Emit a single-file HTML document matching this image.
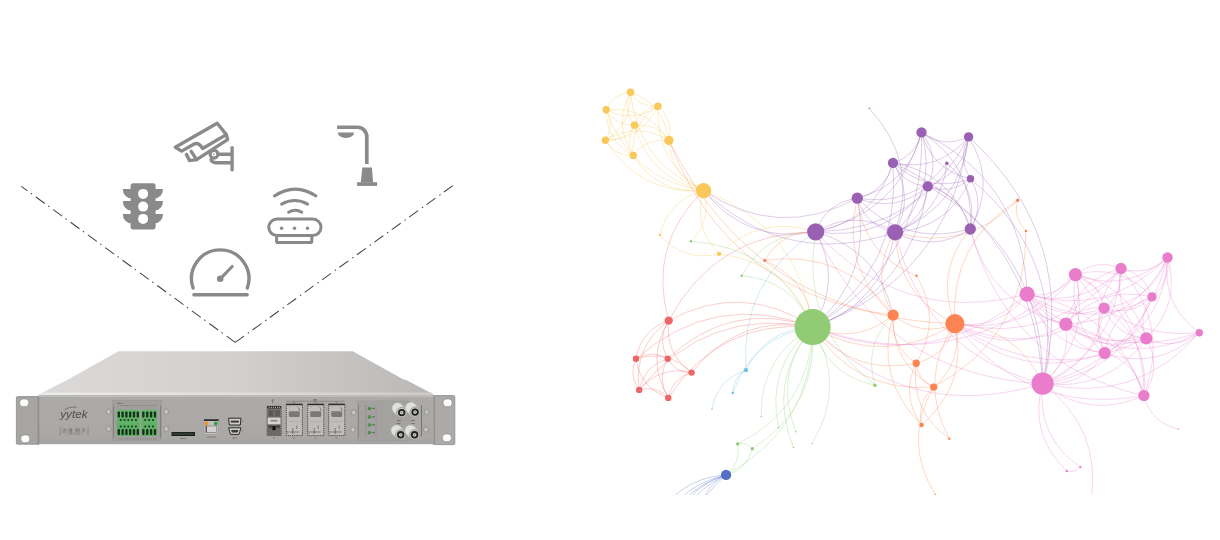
<!DOCTYPE html>
<html><head><meta charset="utf-8"><style>
html,body{margin:0;padding:0;background:#fff;}
body{width:1220px;height:540px;overflow:hidden;position:relative;font-family:"Liberation Sans",sans-serif;}
svg{position:absolute;left:0;top:0;}
svg{will-change:transform;}
</style></head><body>
<svg width="1220" height="540" viewBox="0 0 1220 540">
<g stroke="#444" stroke-width="1.05" fill="none" stroke-dasharray="11 4.2 1.5 4.76">
<path d="M21.4 186.4L235.2 342.4" stroke-dashoffset="3.5"/><path d="M452.9 185.6L235.2 342.4"/></g>
<g fill="#8a8a8a">
<rect x="130.6" y="183.3" width="25" height="46.1" rx="2.6"/>
<path d="M122.8 188.9H131V198.3A8.2 9.4 0 0 1 122.8 188.9Z"/><path d="M163 188.9H155V198.3A8 9.4 0 0 0 163 188.9Z"/><path d="M122.8 201.1H131V210.5A8.2 9.4 0 0 1 122.8 201.1Z"/><path d="M163 201.1H155V210.5A8 9.4 0 0 0 163 201.1Z"/><path d="M122.8 213.9H131V223.3A8.2 9.4 0 0 1 122.8 213.9Z"/><path d="M163 213.9H155V223.3A8 9.4 0 0 0 163 213.9Z"/>
</g>
<g fill="#fff"><circle cx="143.1" cy="193.9" r="5"/><circle cx="143.1" cy="206.6" r="5"/><circle cx="143.1" cy="218.9" r="5"/></g>
<g fill="none" stroke="#8a8a8a" stroke-width="3.4" stroke-linejoin="round" stroke-linecap="round">
<path d="M175.3 147.2L217.2 123.3L226.3 134.6L202.6 148.5Q198.5 141.5 193.7 144.2L181.7 151.1Z"/>
<path d="M226.3 134.6L227.6 139.6L196.6 159.6L191.2 151.4"/>
<path d="M186.4 154.4L189.6 160.6L196.6 159.6"/>
<path d="M218.9 154.2H232.1M232.1 147.7V169.9M211 159.5Q212 162.7 216 162.7H232.1"/>
</g>
<circle cx="214" cy="154.2" r="3.9" fill="#fff" stroke="#8a8a8a" stroke-width="3.2"/>
<circle cx="213.9" cy="154.2" r="0.8" fill="#8a8a8a"/>
<g fill="#8a8a8a">
<path d="M337.1 127.25H357.3A9.5 9.5 0 0 1 366.8 136.75V163.9" fill="none" stroke="#8a8a8a" stroke-width="3.7"/>
<path d="M337.8 132.4H354.1A8.15 5.6 0 0 1 337.8 132.4Z"/>
<path d="M362.3 167.6H371.9L373.1 182.5H360.8Z"/>
<rect x="357.1" y="182.2" width="20" height="3.7"/>
</g>
<g fill="none" stroke="#8a8a8a" stroke-width="3" stroke-linecap="round">
<path d="M274.4 196Q295.2 182.2 316 196"/>
<path d="M281.6 204.1Q294.6 197 307.6 204.1"/>
<path d="M288.6 212.2Q295.2 208.4 301.8 212.2"/>
<rect x="268.8" y="219.1" width="52.2" height="16.4" rx="8.2"/>
<path d="M276.6 237V241.2Q276.6 242.6 278 242.6H310.4Q311.8 242.6 311.8 241.2V237"/>
</g>
<g fill="#8a8a8a"><circle cx="281.6" cy="228.2" r="1.7"/><circle cx="294.5" cy="228.2" r="1.7"/><circle cx="307.5" cy="228.2" r="1.7"/></g>
<g fill="none" stroke="#8a8a8a" stroke-width="3.4" stroke-linecap="round">
<path d="M193.1 288A28.7 28.7 0 1 1 247.3 288"/>
<path d="M193.9 294.7H247.1"/>
<path d="M220.2 278.8L232.2 266.5" stroke-width="3.1"/>
</g><circle cx="220.2" cy="278.8" r="3.3" fill="#8a8a8a"/>
<defs>
<linearGradient id="topg" gradientUnits="userSpaceOnUse" x1="40" y1="0" x2="433" y2="0">
<stop offset="0" stop-color="#dcdad9"/><stop offset="0.5" stop-color="#d2d0cf"/><stop offset="1" stop-color="#bab8b6"/></linearGradient>
<linearGradient id="rimg" gradientUnits="userSpaceOnUse" x1="40" y1="0" x2="433" y2="0">
<stop offset="0" stop-color="#ebebea"/><stop offset="0.5" stop-color="#e0dfde"/><stop offset="1" stop-color="#cdcbc9"/></linearGradient>
<linearGradient id="faceg" x1="0" y1="0" x2="0" y2="1">
<stop offset="0" stop-color="#adaba9"/><stop offset="0.85" stop-color="#aaa8a6"/><stop offset="1" stop-color="#a5a3a1"/></linearGradient>
<linearGradient id="earg" x1="0" y1="0" x2="1" y2="0">
<stop offset="0" stop-color="#a6a4a2"/><stop offset="1" stop-color="#b2b0ae"/></linearGradient>
<linearGradient id="greeng" x1="0" y1="0" x2="0" y2="1">
<stop offset="0" stop-color="#62b86a"/><stop offset="1" stop-color="#5aae62"/></linearGradient>
</defs>
<path d="M118.5 351.3H352.7L403.6 379.6L406.2 380.1L433.7 394.5H38.9L67.6 379.8Z" fill="url(#topg)"/>
<path d="M43.5 392.4H431L433.7 395H38.9Z" fill="url(#rimg)"/>
<rect x="38.4" y="395" width="395.3" height="1.8" fill="#bcbab8"/>
<rect x="38.4" y="396.6" width="395.3" height="47.6" fill="url(#faceg)"/>
<rect x="16.4" y="396.6" width="22.4" height="47.6" rx="1.2" fill="#a7a5a3" stroke="#8b8987" stroke-width="0.8"/>
<rect x="37.6" y="396" width="1.2" height="49" fill="#8e8c8a"/>
<rect x="434.4" y="395.6" width="20.4" height="49" rx="1.2" fill="#acaaa8" stroke="#8b8987" stroke-width="0.8"/>
<rect x="433.4" y="395" width="1.3" height="50" fill="#8e8c8a"/>
<rect x="19.7" y="398.9" width="9" height="7.8" rx="3.4" fill="#fdfdfd" stroke="#7f7d7b" stroke-width="0.6"/>
<rect x="20.8" y="434.9" width="9" height="7.8" rx="3.4" fill="#fdfdfd" stroke="#7f7d7b" stroke-width="0.6"/>
<rect x="443.1" y="398.9" width="9" height="7.8" rx="3.4" fill="#fdfdfd" stroke="#7f7d7b" stroke-width="0.6"/>
<rect x="442.4" y="433.9" width="9" height="7.8" rx="3.4" fill="#fdfdfd" stroke="#7f7d7b" stroke-width="0.6"/>
<text x="60.2" y="417.6" font-family="Liberation Sans" font-style="italic" font-size="11" fill="#504e4c" textLength="27.3" lengthAdjust="spacingAndGlyphs">yytek</text>
<path d="M64.5 410Q69 406.5 76.5 407.2" stroke="#5e5c5a" stroke-width="0.7" fill="none"/>
<path d="M60.3 426.7V435.6M88 426.7V435.6" stroke="#6e6c6a" stroke-width="0.5"/>
<text x="74" y="431.5" text-anchor="middle" font-family="Liberation Sans" font-size="4.5" fill="#6a6866">&#36793; &#32536; &#32593; &#20851;</text>
<text x="74" y="435.3" text-anchor="middle" font-family="Liberation Sans" font-size="2.6" fill="#7a7876">-- SWC0000 --</text>
<ellipse cx="108.5" cy="411.6" rx="2.5" ry="2.9" fill="#b9b7b5" stroke="#8a8886" stroke-width="0.6"/>
<circle cx="108.7" cy="412.20000000000005" r="0.9" fill="#d8d6d4"/>
<ellipse cx="108.5" cy="428.7" rx="2.5" ry="2.9" fill="#b9b7b5" stroke="#8a8886" stroke-width="0.6"/>
<circle cx="108.7" cy="429.3" r="0.9" fill="#d8d6d4"/>
<ellipse cx="166.2" cy="411.6" rx="2.5" ry="2.9" fill="#b9b7b5" stroke="#8a8886" stroke-width="0.6"/>
<circle cx="166.39999999999998" cy="412.20000000000005" r="0.9" fill="#d8d6d4"/>
<ellipse cx="166.2" cy="428.7" rx="2.5" ry="2.9" fill="#b9b7b5" stroke="#8a8886" stroke-width="0.6"/>
<circle cx="166.39999999999998" cy="429.3" r="0.9" fill="#d8d6d4"/>
<ellipse cx="353.6" cy="412.3" rx="2.5" ry="2.9" fill="#b9b7b5" stroke="#8a8886" stroke-width="0.6"/>
<circle cx="353.8" cy="412.90000000000003" r="0.9" fill="#d8d6d4"/>
<ellipse cx="353" cy="429.3" rx="2.5" ry="2.9" fill="#b9b7b5" stroke="#8a8886" stroke-width="0.6"/>
<circle cx="353.2" cy="429.90000000000003" r="0.9" fill="#d8d6d4"/>
<ellipse cx="426.7" cy="411.7" rx="2.5" ry="2.9" fill="#b9b7b5" stroke="#8a8886" stroke-width="0.6"/>
<circle cx="426.9" cy="412.3" r="0.9" fill="#d8d6d4"/>
<ellipse cx="425.9" cy="429.3" rx="2.5" ry="2.9" fill="#b9b7b5" stroke="#8a8886" stroke-width="0.6"/>
<circle cx="426.09999999999997" cy="429.90000000000003" r="0.9" fill="#d8d6d4"/>
<rect x="112.5" y="400.5" width="49" height="40" fill="#a19f9d" stroke="#95938f" stroke-width="0.5"/>
<path d="M113.5 406V438M160.5 406V438" stroke="#6f6d6b" stroke-width="0.6"/>
<g fill="#6a6866" font-family="Liberation Sans" font-size="2.4">
<text x="117" y="404">&#9632;   &#9632;   &#9632;</text></g>
<path d="M118 405.5H157M118 439H157" stroke="#777573" stroke-width="0.7" stroke-dasharray="1.2 1"/>
<rect x="116.9" y="409.8" width="22.8" height="26.1" fill="url(#greeng)"/>
<rect x="117.65" y="411.4" width="2.3" height="6.2" rx="0.9" fill="#17301a"/>
<rect x="117.65" y="429" width="2.3" height="5.9" rx="0.9" fill="#17301a"/>
<rect x="121.45" y="411.4" width="2.3" height="6.2" rx="0.9" fill="#17301a"/>
<rect x="121.45" y="429" width="2.3" height="5.9" rx="0.9" fill="#17301a"/>
<rect x="125.25" y="411.4" width="2.3" height="6.2" rx="0.9" fill="#17301a"/>
<rect x="125.25" y="429" width="2.3" height="5.9" rx="0.9" fill="#17301a"/>
<rect x="129.05" y="411.4" width="2.3" height="6.2" rx="0.9" fill="#17301a"/>
<rect x="129.05" y="429" width="2.3" height="5.9" rx="0.9" fill="#17301a"/>
<rect x="132.85" y="411.4" width="2.3" height="6.2" rx="0.9" fill="#17301a"/>
<rect x="132.85" y="429" width="2.3" height="5.9" rx="0.9" fill="#17301a"/>
<rect x="136.65" y="411.4" width="2.3" height="6.2" rx="0.9" fill="#17301a"/>
<rect x="136.65" y="429" width="2.3" height="5.9" rx="0.9" fill="#17301a"/>
<rect x="119.80" y="419.1" width="1.8" height="1.8" fill="#1d3620"/>
<rect x="119.80" y="425.6" width="1.8" height="1.8" fill="#1d3620"/>
<rect x="123.60" y="419.1" width="1.8" height="1.8" fill="#1d3620"/>
<rect x="123.60" y="425.6" width="1.8" height="1.8" fill="#1d3620"/>
<rect x="127.40" y="419.1" width="1.8" height="1.8" fill="#1d3620"/>
<rect x="127.40" y="425.6" width="1.8" height="1.8" fill="#1d3620"/>
<rect x="131.20" y="419.1" width="1.8" height="1.8" fill="#1d3620"/>
<rect x="131.20" y="425.6" width="1.8" height="1.8" fill="#1d3620"/>
<rect x="135.00" y="419.1" width="1.8" height="1.8" fill="#1d3620"/>
<rect x="135.00" y="425.6" width="1.8" height="1.8" fill="#1d3620"/>
<rect x="141.4" y="409.8" width="15.5" height="26.1" fill="url(#greeng)"/>
<rect x="142.19" y="411.4" width="2.3" height="6.2" rx="0.9" fill="#17301a"/>
<rect x="142.19" y="429" width="2.3" height="5.9" rx="0.9" fill="#17301a"/>
<rect x="146.06" y="411.4" width="2.3" height="6.2" rx="0.9" fill="#17301a"/>
<rect x="146.06" y="429" width="2.3" height="5.9" rx="0.9" fill="#17301a"/>
<rect x="149.94" y="411.4" width="2.3" height="6.2" rx="0.9" fill="#17301a"/>
<rect x="149.94" y="429" width="2.3" height="5.9" rx="0.9" fill="#17301a"/>
<rect x="153.81" y="411.4" width="2.3" height="6.2" rx="0.9" fill="#17301a"/>
<rect x="153.81" y="429" width="2.3" height="5.9" rx="0.9" fill="#17301a"/>
<rect x="144.38" y="419.1" width="1.8" height="1.8" fill="#1d3620"/>
<rect x="144.38" y="425.6" width="1.8" height="1.8" fill="#1d3620"/>
<rect x="148.25" y="419.1" width="1.8" height="1.8" fill="#1d3620"/>
<rect x="148.25" y="425.6" width="1.8" height="1.8" fill="#1d3620"/>
<rect x="152.12" y="419.1" width="1.8" height="1.8" fill="#1d3620"/>
<rect x="152.12" y="425.6" width="1.8" height="1.8" fill="#1d3620"/>
<rect x="171.5" y="432" width="23.5" height="4" fill="#1c1c1c"/>
<rect x="172.3" y="432.8" width="21.9" height="2.2" fill="#2f3a30"/>
<rect x="180" y="438" width="6" height="1" fill="#7d7b79"/>
<rect x="204" y="420.5" width="14.6" height="14.2" fill="#c4c2c0" stroke="#8f8d8b" stroke-width="0.5"/>
<rect x="204" y="419.3" width="14.6" height="1.6" fill="#1e1e1e"/>
<circle cx="206.6" cy="423.5" r="1.9" fill="#f39221"/><circle cx="215.8" cy="423.5" r="1.9" fill="#3a9a44"/>
<rect x="206" y="426" width="10.8" height="6.5" fill="#d3d1cf" stroke="#6f6d6b" stroke-width="0.6"/>
<rect x="205.8" y="425.8" width="1" height="6.6" fill="#444"/>
<rect x="207" y="436.5" width="9" height="1" fill="#7d7b79"/>
<path d="M228.6 418.2H241L240.3 425H229.3Z" fill="#d0cecc" stroke="#2b2b2b" stroke-width="1"/>
<rect x="230.8" y="420.6" width="8" height="2" fill="#3a3a3a"/>
<path d="M228.6 427.8H241L239 434.4H230.6Z" fill="#d0cecc" stroke="#2b2b2b" stroke-width="1"/>
<path d="M231 430H238.6L237.5 432.5H232Z" fill="#3a3a3a"/>
<rect x="242.5" y="420.5" width="0.6" height="1.5" fill="#6d6b69"/><rect x="242.5" y="430" width="0.6" height="1.5" fill="#6d6b69"/>
<rect x="232.5" y="437.5" width="4.5" height="1" fill="#7d7b79"/>
<rect x="267.1" y="406.2" width="14.1" height="29.4" fill="#858381" stroke="#3f3d3b" stroke-width="0.7" stroke-dasharray="1.1 0.6"/>
<rect x="267.1" y="406.2" width="14.1" height="2.3" rx="1" fill="#1f1f1f"/>
<rect x="268.6" y="406.8" width="1.1" height="1" fill="#d8d8d8"/>
<rect x="270.7" y="406.8" width="1.1" height="1" fill="#d8d8d8"/>
<rect x="272.8" y="406.8" width="1.1" height="1" fill="#d8d8d8"/>
<rect x="274.9" y="406.8" width="1.1" height="1" fill="#d8d8d8"/>
<rect x="277.0" y="406.8" width="1.1" height="1" fill="#d8d8d8"/>
<rect x="279.1" y="406.8" width="1.1" height="1" fill="#d8d8d8"/>
<rect x="267.8" y="409.2" width="12.7" height="8.2" fill="#747270"/>
<rect x="268.5" y="410" width="5" height="6.5" fill="#5a5856"/><rect x="275" y="410" width="5" height="6.5" fill="#5e5c5a"/>
<rect x="267.8" y="417.7" width="12.7" height="6.8" fill="#d6d4d2"/>
<rect x="270.5" y="419.8" width="7" height="1.8" fill="#8a8886"/>
<rect x="267.8" y="424.5" width="12.7" height="10.8" fill="#6c6a68"/>
<rect x="268.5" y="425.2" width="4" height="3" fill="#4a4846"/><rect x="276" y="425.2" width="4" height="3" fill="#4a4846"/>
<rect x="272.4" y="426" width="3.2" height="4.2" fill="#0f0f0f"/>
<rect x="271.5" y="399.5" width="2.2" height="1.2" fill="#6d6b69"/><rect x="272" y="401.5" width="1.2" height="1.5" fill="#6d6b69"/><rect x="273" y="437.5" width="1.5" height="1" fill="#6d6b69"/>
<path d="M286 401.3H344.4" stroke="#6d6b69" stroke-width="0.5"/>
<rect x="313" y="399.3" width="4" height="1.2" fill="#6d6b69"/>
<rect x="286.3" y="404.1" width="16.1" height="31.5" fill="#c0bebc" stroke="#3a3836" stroke-width="0.8" stroke-dasharray="1.3 0.8"/>
<rect x="286.3" y="403.8" width="16.1" height="1.4" fill="#2f2d2b"/>
<rect x="288.8" y="411.3" width="11" height="5.6" rx="1.2" fill="#7b7977"/>
<path d="M298.5 407.5L299.8 411" stroke="#6a6866" stroke-width="0.8"/>
<path d="M288.3 405.5L290.3 407.5M296.3 405.8L298.3 407.5" stroke="#9a9896" stroke-width="0.6"/>
<rect x="288.3" y="421" width="12.100000000000001" height="0.5" fill="#a4a2a0"/>
<path d="M292.8 434V428M296.8 429V425.5M289.3 432H299.3M287.8 433.5V431" stroke="#5a5856" stroke-width="0.7" fill="none"/>
<rect x="293.3" y="437.5" width="1.5" height="1" fill="#6d6b69"/>
<rect x="293.3" y="401.8" width="1.5" height="1" fill="#6d6b69"/>
<rect x="307.7" y="404.1" width="16.1" height="31.5" fill="#c0bebc" stroke="#3a3836" stroke-width="0.8" stroke-dasharray="1.3 0.8"/>
<rect x="307.7" y="403.8" width="16.1" height="1.4" fill="#2f2d2b"/>
<rect x="310.2" y="411.3" width="11" height="5.6" rx="1.2" fill="#7b7977"/>
<path d="M319.9 407.5L321.2 411" stroke="#6a6866" stroke-width="0.8"/>
<path d="M309.7 405.5L311.7 407.5M317.7 405.8L319.7 407.5" stroke="#9a9896" stroke-width="0.6"/>
<rect x="309.7" y="421" width="12.100000000000001" height="0.5" fill="#a4a2a0"/>
<path d="M314.2 434V428M318.2 429V425.5M310.7 432H320.7M309.2 433.5V431" stroke="#5a5856" stroke-width="0.7" fill="none"/>
<rect x="314.7" y="437.5" width="1.5" height="1" fill="#6d6b69"/>
<rect x="314.7" y="401.8" width="1.5" height="1" fill="#6d6b69"/>
<rect x="328.7" y="404.1" width="16.1" height="31.5" fill="#c0bebc" stroke="#3a3836" stroke-width="0.8" stroke-dasharray="1.3 0.8"/>
<rect x="328.7" y="403.8" width="16.1" height="1.4" fill="#2f2d2b"/>
<rect x="331.2" y="411.3" width="11" height="5.6" rx="1.2" fill="#7b7977"/>
<path d="M340.9 407.5L342.2 411" stroke="#6a6866" stroke-width="0.8"/>
<path d="M330.7 405.5L332.7 407.5M338.7 405.8L340.7 407.5" stroke="#9a9896" stroke-width="0.6"/>
<rect x="330.7" y="421" width="12.100000000000001" height="0.5" fill="#a4a2a0"/>
<path d="M335.2 434V428M339.2 429V425.5M331.7 432H341.7M330.2 433.5V431" stroke="#5a5856" stroke-width="0.7" fill="none"/>
<rect x="335.7" y="437.5" width="1.5" height="1" fill="#6d6b69"/>
<rect x="335.7" y="401.8" width="1.5" height="1" fill="#6d6b69"/>
<rect x="357.5" y="401" width="52.5" height="39.5" fill="#a4a2a0" stroke="#999795" stroke-width="0.5"/>
<path d="M358.5 405V438" stroke="#6f6d6b" stroke-width="0.5"/>
<path d="M365.5 404.5V437M376 404.5V437" stroke="#8a8886" stroke-width="0.5"/>
<circle cx="369.3" cy="408.4" r="1.6" fill="#2f7d2f"/><circle cx="369.1" cy="408.09999999999997" r="0.8" fill="#5ec15a"/>
<rect x="371.8" y="407.79999999999995" width="3" height="1.2" fill="#6d6b69"/>
<circle cx="369.3" cy="416.9" r="1.6" fill="#2f7d2f"/><circle cx="369.1" cy="416.59999999999997" r="0.8" fill="#5ec15a"/>
<rect x="371.8" y="416.29999999999995" width="3" height="1.2" fill="#6d6b69"/>
<circle cx="369.3" cy="424.8" r="1.6" fill="#2f7d2f"/><circle cx="369.1" cy="424.5" r="0.8" fill="#5ec15a"/>
<rect x="371.8" y="424.2" width="3" height="1.2" fill="#6d6b69"/>
<circle cx="369.3" cy="432.6" r="1.6" fill="#2f7d2f"/><circle cx="369.1" cy="432.3" r="0.8" fill="#5ec15a"/>
<rect x="371.8" y="432.0" width="3" height="1.2" fill="#6d6b69"/>
<path d="M397.5 408.2L401.7 412.6" stroke="#e0e0df" stroke-width="11" stroke-linecap="round"/>
<circle cx="397.5" cy="408.2" r="5.5" fill="none" stroke="#bdbcbb" stroke-width="0.5"/>
<circle cx="401.7" cy="412.6" r="5.2" fill="#c6c6c5" stroke="#7a7978" stroke-width="0.6"/>
<circle cx="401.7" cy="412.6" r="3.7" fill="#1e1e1e"/>
<circle cx="401.7" cy="412.6" r="1.9" fill="#c9c8bc"/>
<circle cx="401.7" cy="412.6" r="0.5" fill="#444"/>
<path d="M410.9 407.7L415.1 412.1" stroke="#e0e0df" stroke-width="11" stroke-linecap="round"/>
<circle cx="410.9" cy="407.7" r="5.5" fill="none" stroke="#bdbcbb" stroke-width="0.5"/>
<circle cx="415.1" cy="412.1" r="5.2" fill="#c6c6c5" stroke="#7a7978" stroke-width="0.6"/>
<circle cx="415.1" cy="412.1" r="3.7" fill="#1e1e1e"/>
<circle cx="415.1" cy="412.1" r="1.9" fill="#c9c8bc"/>
<circle cx="415.1" cy="412.1" r="0.5" fill="#444"/>
<path d="M396.5 430.4L400.7 434.8" stroke="#e0e0df" stroke-width="11" stroke-linecap="round"/>
<circle cx="396.5" cy="430.4" r="5.5" fill="none" stroke="#bdbcbb" stroke-width="0.5"/>
<circle cx="400.7" cy="434.8" r="5.2" fill="#c6c6c5" stroke="#7a7978" stroke-width="0.6"/>
<circle cx="400.7" cy="434.8" r="3.7" fill="#1e1e1e"/>
<circle cx="400.7" cy="434.8" r="1.9" fill="#c9c8bc"/>
<circle cx="400.7" cy="434.8" r="0.5" fill="#444"/>
<path d="M410.4 430.4L414.6 434.8" stroke="#e0e0df" stroke-width="11" stroke-linecap="round"/>
<circle cx="410.4" cy="430.4" r="5.5" fill="none" stroke="#bdbcbb" stroke-width="0.5"/>
<circle cx="414.6" cy="434.8" r="5.2" fill="#c6c6c5" stroke="#7a7978" stroke-width="0.6"/>
<circle cx="414.6" cy="434.8" r="3.7" fill="#1e1e1e"/>
<circle cx="414.6" cy="434.8" r="1.9" fill="#c9c8bc"/>
<circle cx="414.6" cy="434.8" r="0.5" fill="#444"/>
<rect x="397.2" y="420.05" width="3.6" height="0.9" fill="#6d6b69"/>
<rect x="411.2" y="420.05" width="3.6" height="0.9" fill="#6d6b69"/>
<rect x="396.7" y="423.15000000000003" width="3.6" height="0.9" fill="#6d6b69"/>
<rect x="411.2" y="423.15000000000003" width="3.6" height="0.9" fill="#6d6b69"/>
<path d="M421.5 405.5V436" stroke="#5d5b59" stroke-width="0.7"/>
<defs><clipPath id="gclip"><rect x="560" y="0" width="660" height="495"/></clipPath></defs>
<g clip-path="url(#gclip)">
<g fill="none" stroke-width="1" stroke-opacity="0.32">
<path stroke="#5470c6" d="M653.0 546.0Q668.3 488.5 726.1 474.9"/>
<path stroke="#91cc75" d="M752.3 448.7Q747.1 469.7 726.1 474.9"/>
<path stroke="#91cc75" d="M737.7 443.9Q741.3 462.9 726.1 474.9"/>
<path stroke="#91cc75" d="M737.7 443.9Q746.5 441.9 752.3 448.7"/>
<path stroke="#5470c6" d="M671.8 537.4Q680.2 489.8 726.1 474.9"/>
<path stroke="#5470c6" d="M653.4 526.3Q674.4 478.8 726.1 474.9"/>
<path stroke="#5470c6" d="M694.4 564.4Q683.4 510.2 726.1 474.9"/>
<path stroke="#5470c6" d="M670.1 559.6Q672.8 500.5 726.1 474.9"/>
<path stroke="#5470c6" d="M700.3 517.2Q700.5 488.3 726.1 474.9"/>
<path stroke="#5470c6" d="M659.9 549.3Q670.7 492.3 726.1 474.9"/>
<path stroke="#91cc75" d="M812.6 327.1Q847.2 385.5 811.9 443.6"/>
<path stroke="#91cc75" d="M812.6 327.1Q810.2 407.9 737.7 443.9"/>
<path stroke="#91cc75" d="M812.6 327.1Q818.9 406.0 752.3 448.7"/>
<path stroke="#91cc75" d="M812.6 327.1Q813.7 426.9 726.1 474.9"/>
<path stroke="#91cc75" d="M690.9 241.2Q777.5 247.6 812.6 327.1"/>
<path stroke="#91cc75" d="M761.2 416.5Q760.1 356.3 812.6 327.1"/>
<path stroke="#91cc75" d="M778.7 427.8Q765.4 367.3 812.6 327.1"/>
<path stroke="#91cc75" d="M793.4 447.4Q766.9 381.4 812.6 327.1"/>
<path stroke="#fac858" d="M605.4 140.2Q637.2 121.3 668.9 140.4"/>
<path stroke="#fac858" d="M630.5 92.2Q664.2 104.8 668.9 140.4"/>
<path stroke="#fac858" d="M630.5 92.2Q632.4 123.7 605.4 140.2"/>
<path stroke="#fac858" d="M606.1 109.8Q646.7 106.3 668.9 140.4"/>
<path stroke="#fac858" d="M606.1 109.8Q614.9 125.2 605.4 140.2"/>
<path stroke="#fac858" d="M606.1 109.8Q613.0 93.7 630.5 92.2"/>
<path stroke="#fac858" d="M657.9 106.2Q673.7 120.0 668.9 140.4"/>
<path stroke="#fac858" d="M657.9 106.2Q641.9 139.0 605.4 140.2"/>
<path stroke="#fac858" d="M657.9 106.2Q640.0 107.4 630.5 92.2"/>
<path stroke="#fac858" d="M657.9 106.2Q633.1 123.5 606.1 109.8"/>
<path stroke="#fac858" d="M634.5 125.2Q656.3 122.5 668.9 140.4"/>
<path stroke="#fac858" d="M634.5 125.2Q624.5 141.4 605.4 140.2"/>
<path stroke="#fac858" d="M634.5 125.2Q622.6 109.9 630.5 92.2"/>
<path stroke="#fac858" d="M634.5 125.2Q615.7 126.0 606.1 109.8"/>
<path stroke="#fac858" d="M634.5 125.2Q640.5 108.7 657.9 106.2"/>
<path stroke="#fac858" d="M633.2 155.4Q646.6 137.2 668.9 140.4"/>
<path stroke="#fac858" d="M633.2 155.4Q614.8 156.2 605.4 140.2"/>
<path stroke="#fac858" d="M633.2 155.4Q612.9 124.6 630.5 92.2"/>
<path stroke="#fac858" d="M633.2 155.4Q606.0 140.8 606.1 109.8"/>
<path stroke="#fac858" d="M633.2 155.4Q630.8 123.4 657.9 106.2"/>
<path stroke="#fac858" d="M633.2 155.4Q624.8 139.9 634.5 125.2"/>
<path stroke="#fac858" d="M703.6 190.7Q671.2 176.0 668.9 140.4"/>
<path stroke="#fac858" d="M703.6 190.7Q639.4 194.9 605.4 140.2"/>
<path stroke="#fac858" d="M703.6 190.7Q637.5 163.4 630.5 92.2"/>
<path stroke="#fac858" d="M703.6 190.7Q630.6 179.5 606.1 109.8"/>
<path stroke="#fac858" d="M703.6 190.7Q655.4 162.2 657.9 106.2"/>
<path stroke="#fac858" d="M703.6 190.7Q649.4 178.7 634.5 125.2"/>
<path stroke="#fac858" d="M703.6 190.7Q657.8 194.2 633.2 155.4"/>
<path stroke="#fac858" d="M703.6 190.7Q712.4 219.8 690.9 241.2"/>
<path stroke="#fac858" d="M703.6 190.7Q799.0 226.2 812.6 327.1"/>
<path stroke="#9a60b4" d="M857.3 198.2Q778.2 240.6 703.6 190.7"/>
<path stroke="#9a60b4" d="M857.3 198.2Q873.6 276.1 812.6 327.1"/>
<path stroke="#9a60b4" d="M895.1 232.3Q866.0 226.6 857.3 198.2"/>
<path stroke="#9a60b4" d="M895.1 232.3Q786.9 269.0 703.6 190.7"/>
<path stroke="#9a60b4" d="M895.1 232.3Q882.3 304.5 812.6 327.1"/>
<path stroke="#fc8452" d="M893.1 315.1Q840.1 267.4 857.3 198.2"/>
<path stroke="#fc8452" d="M893.1 315.1Q856.4 345.2 812.6 327.1"/>
<path stroke="#fc8452" d="M893.1 315.1Q728.6 295.0 668.9 140.4"/>
<path stroke="#fc8452" d="M893.1 315.1Q869.3 273.1 895.1 232.3"/>
<path stroke="#9a60b4" d="M815.7 231.8Q842.7 280.4 812.6 327.1"/>
<path stroke="#9a60b4" d="M815.7 231.8Q747.3 244.9 703.6 190.7"/>
<path stroke="#9a60b4" d="M815.7 231.8Q855.6 208.3 895.1 232.3"/>
<path stroke="#9a60b4" d="M815.7 231.8Q826.5 202.5 857.3 198.2"/>
<path stroke="#9a60b4" d="M815.7 231.8Q879.4 250.3 893.1 315.1"/>
<path stroke="#73c0de" d="M746.0 370.1Q766.4 328.6 812.6 327.1"/>
<path stroke="#73c0de" d="M746.0 370.1Q739.4 280.0 815.7 231.8"/>
<path stroke="#ee6666" d="M668.7 320.6Q647.2 245.2 703.6 190.7"/>
<path stroke="#ee6666" d="M668.7 320.6Q715.6 232.1 815.7 231.8"/>
<path stroke="#ee6666" d="M668.7 320.6Q742.6 280.7 812.6 327.1"/>
<path stroke="#fac858" d="M659.9 235.0Q668.5 199.7 703.6 190.7"/>
<path stroke="#fac858" d="M719.1 253.9Q683.8 262.2 659.9 235.0"/>
<path stroke="#fac858" d="M719.1 253.9Q787.8 262.4 812.6 327.1"/>
<path stroke="#fac858" d="M719.1 253.9Q692.4 226.9 703.6 190.7"/>
<path stroke="#fac858" d="M719.1 253.9Q760.8 213.9 815.7 231.8"/>
<path stroke="#91cc75" d="M795.9 431.8Q772.8 374.4 812.6 327.1"/>
<path stroke="#91cc75" d="M741.7 275.7Q792.6 280.1 812.6 327.1"/>
<path stroke="#91cc75" d="M741.7 275.7Q765.5 231.6 815.7 231.8"/>
<path stroke="#ee6666" d="M667.7 358.7Q730.6 299.4 812.6 327.1"/>
<path stroke="#ee6666" d="M667.7 358.7Q656.8 339.3 668.7 320.6"/>
<path stroke="#ee6666" d="M691.6 372.6Q738.5 313.5 812.6 327.1"/>
<path stroke="#ee6666" d="M691.6 372.6Q675.5 372.8 667.7 358.7"/>
<path stroke="#ee6666" d="M691.6 372.6Q664.6 353.5 668.7 320.6"/>
<path stroke="#ee6666" d="M636.0 358.8Q651.8 349.2 667.7 358.7"/>
<path stroke="#ee6666" d="M636.0 358.8Q668.0 349.0 691.6 372.6"/>
<path stroke="#ee6666" d="M636.0 358.8Q714.8 289.9 812.6 327.1"/>
<path stroke="#ee6666" d="M636.0 358.8Q640.9 329.9 668.7 320.6"/>
<path stroke="#ee6666" d="M668.3 397.9Q656.2 378.5 667.7 358.7"/>
<path stroke="#ee6666" d="M668.3 397.9Q672.4 378.2 691.6 372.6"/>
<path stroke="#ee6666" d="M668.3 397.9Q640.4 388.0 636.0 358.8"/>
<path stroke="#ee6666" d="M668.3 397.9Q719.2 319.2 812.6 327.1"/>
<path stroke="#ee6666" d="M668.3 397.9Q645.3 359.1 668.7 320.6"/>
<path stroke="#ee6666" d="M639.2 389.9Q644.0 365.7 667.7 358.7"/>
<path stroke="#ee6666" d="M639.2 389.9Q660.2 365.5 691.6 372.6"/>
<path stroke="#ee6666" d="M639.2 389.9Q628.3 375.3 636.0 358.8"/>
<path stroke="#ee6666" d="M639.2 389.9Q656.2 385.1 668.3 397.9"/>
<path stroke="#ee6666" d="M639.2 389.9Q707.0 306.4 812.6 327.1"/>
<path stroke="#ee6666" d="M639.2 389.9Q633.1 346.4 668.7 320.6"/>
<path stroke="#fc8452" d="M1017.7 200.3Q966.0 253.1 895.1 232.3"/>
<path stroke="#9a60b4" d="M869.2 108.3Q919.4 162.6 895.1 232.3"/>
<path stroke="#9a60b4" d="M970.3 229.0Q904.6 247.5 857.3 198.2"/>
<path stroke="#9a60b4" d="M970.3 229.0Q933.7 253.2 895.1 232.3"/>
<path stroke="#9a60b4" d="M946.8 163.2Q978.3 189.0 970.3 229.0"/>
<path stroke="#9a60b4" d="M946.8 163.2Q941.7 213.2 895.1 232.3"/>
<path stroke="#9a60b4" d="M946.8 163.2Q912.6 207.5 857.3 198.2"/>
<path stroke="#fc8452" d="M764.7 260.4Q808.7 279.3 812.6 327.1"/>
<path stroke="#fc8452" d="M764.7 260.4Q845.3 249.2 893.1 315.1"/>
<path stroke="#fc8452" d="M764.7 260.4Q781.7 230.8 815.7 231.8"/>
<path stroke="#73c0de" d="M732.8 393.0Q732.5 377.6 746.0 370.1"/>
<path stroke="#73c0de" d="M732.8 393.0Q752.9 336.1 812.6 327.1"/>
<path stroke="#73c0de" d="M712.0 409.0Q717.3 379.4 746.0 370.1"/>
<path stroke="#3ba272" d="M1091.0 502.5Q1130.0 533.4 1121.1 582.4"/>
<path stroke="#ea7ccc" d="M1042.6 383.6Q1102.5 428.5 1091.0 502.5"/>
<path stroke="#ea7ccc" d="M1042.6 383.6Q923.5 352.2 895.1 232.3"/>
<path stroke="#ea7ccc" d="M1042.6 383.6Q883.6 375.8 815.7 231.8"/>
<path stroke="#ea7ccc" d="M1042.6 383.6Q910.6 424.3 812.6 327.1"/>
<path stroke="#fc8452" d="M916.2 363.2Q890.2 346.1 893.1 315.1"/>
<path stroke="#fc8452" d="M916.2 363.2Q853.6 376.2 812.6 327.1"/>
<path stroke="#fc8452" d="M916.5 275.8Q942.6 319.6 916.2 363.2"/>
<path stroke="#fc8452" d="M916.5 275.8Q863.7 254.8 857.3 198.2"/>
<path stroke="#fc8452" d="M933.7 387.1Q917.8 380.4 916.2 363.2"/>
<path stroke="#fc8452" d="M933.7 387.1Q891.8 363.3 893.1 315.1"/>
<path stroke="#fc8452" d="M933.7 387.1Q855.1 393.4 812.6 327.1"/>
<path stroke="#fc8452" d="M1026.0 231.0Q1026.7 336.8 933.7 387.1"/>
<path stroke="#fc8452" d="M1026.0 231.0Q1012.7 218.1 1017.7 200.3"/>
<path stroke="#fc8452" d="M935.1 494.3Q902.2 441.1 933.7 387.1"/>
<path stroke="#fc8452" d="M921.6 425.0Q916.3 402.4 933.7 387.1"/>
<path stroke="#fc8452" d="M921.6 425.0Q900.4 395.7 916.2 363.2"/>
<path stroke="#fc8452" d="M921.6 425.0Q874.4 378.6 893.1 315.1"/>
<path stroke="#fc8452" d="M954.9 323.7Q963.3 361.7 933.7 387.1"/>
<path stroke="#fc8452" d="M954.9 323.7Q947.4 355.0 916.2 363.2"/>
<path stroke="#fc8452" d="M954.9 323.7Q949.3 243.1 1017.7 200.3"/>
<path stroke="#fc8452" d="M954.9 323.7Q968.6 384.3 921.6 425.0"/>
<path stroke="#fc8452" d="M954.9 323.7Q921.4 337.9 893.1 315.1"/>
<path stroke="#fc8452" d="M954.9 323.7Q884.8 368.0 812.6 327.1"/>
<path stroke="#fc8452" d="M954.9 323.7Q756.9 317.8 668.9 140.4"/>
<path stroke="#fc8452" d="M954.9 323.7Q897.6 295.9 895.1 232.3"/>
<path stroke="#fc8452" d="M954.9 323.7Q934.2 271.7 970.3 229.0"/>
<path stroke="#fc8452" d="M954.9 323.7Q1016.7 327.4 1042.6 383.6"/>
<path stroke="#fc8452" d="M949.3 438.8Q910.1 410.9 916.2 363.2"/>
<path stroke="#fc8452" d="M949.3 438.8Q917.5 379.6 954.9 323.7"/>
<path stroke="#ea7ccc" d="M1143.9 395.6Q1027.8 416.3 954.9 323.7"/>
<path stroke="#ea7ccc" d="M1143.9 395.6Q1007.2 364.4 970.3 229.0"/>
<path stroke="#ea7ccc" d="M1143.9 395.6Q1089.7 420.0 1042.6 383.6"/>
<path stroke="#ea7ccc" d="M1027.1 294.2Q999.8 330.6 954.9 323.7"/>
<path stroke="#ea7ccc" d="M1027.1 294.2Q1061.6 334.3 1042.6 383.6"/>
<path stroke="#ea7ccc" d="M1027.1 294.2Q902.7 326.4 815.7 231.8"/>
<path stroke="#ea7ccc" d="M1027.1 294.2Q1115.9 309.8 1143.9 395.6"/>
<path stroke="#ea7ccc" d="M1027.1 294.2Q929.7 375.0 812.6 327.1"/>
<path stroke="#ea7ccc" d="M1104.1 308.1Q1061.4 324.3 1027.1 294.2"/>
<path stroke="#ea7ccc" d="M1104.1 308.1Q1034.2 360.7 954.9 323.7"/>
<path stroke="#ea7ccc" d="M1104.1 308.1Q1096.0 364.3 1042.6 383.6"/>
<path stroke="#ea7ccc" d="M1104.1 308.1Q1150.3 339.9 1143.9 395.6"/>
<path stroke="#ea7ccc" d="M1152.0 296.9Q1123.3 373.1 1042.6 383.6"/>
<path stroke="#ea7ccc" d="M1152.0 296.9Q1088.7 333.0 1027.1 294.2"/>
<path stroke="#ea7ccc" d="M1152.0 296.9Q1131.4 316.8 1104.1 308.1"/>
<path stroke="#ea7ccc" d="M1121.0 268.5Q1116.3 349.6 1042.6 383.6"/>
<path stroke="#ea7ccc" d="M1121.0 268.5Q1081.7 309.5 1027.1 294.2"/>
<path stroke="#ea7ccc" d="M1121.0 268.5Q1145.0 273.4 1152.0 296.9"/>
<path stroke="#ea7ccc" d="M1121.0 268.5Q1124.4 293.3 1104.1 308.1"/>
<path stroke="#ea7ccc" d="M1121.0 268.5Q1170.6 325.1 1143.9 395.6"/>
<path stroke="#ea7ccc" d="M1121.0 268.5Q1054.5 345.9 954.9 323.7"/>
<path stroke="#ea7ccc" d="M1065.9 324.2Q1010.2 357.2 954.9 323.7"/>
<path stroke="#ea7ccc" d="M1065.9 324.2Q1037.5 320.9 1027.1 294.2"/>
<path stroke="#ea7ccc" d="M1065.9 324.2Q1080.2 304.7 1104.1 308.1"/>
<path stroke="#ea7ccc" d="M1065.9 324.2Q1072.1 360.9 1042.6 383.6"/>
<path stroke="#ea7ccc" d="M1065.9 324.2Q1126.3 336.5 1143.9 395.6"/>
<path stroke="#ea7ccc" d="M1065.9 324.2Q989.5 305.3 970.3 229.0"/>
<path stroke="#ea7ccc" d="M1065.9 324.2Q1076.7 279.8 1121.0 268.5"/>
<path stroke="#ea7ccc" d="M1065.9 324.2Q1100.8 284.7 1152.0 296.9"/>
<path stroke="#ea7ccc" d="M1146.3 338.3Q1116.2 335.8 1104.1 308.1"/>
<path stroke="#ea7ccc" d="M1146.3 338.3Q1108.1 392.1 1042.6 383.6"/>
<path stroke="#ea7ccc" d="M1146.3 338.3Q1101.9 355.4 1065.9 324.2"/>
<path stroke="#ea7ccc" d="M1146.3 338.3Q1162.3 367.6 1143.9 395.6"/>
<path stroke="#ea7ccc" d="M1146.3 338.3Q1073.5 352.0 1027.1 294.2"/>
<path stroke="#ea7ccc" d="M1146.3 338.3Q1112.7 311.0 1121.0 268.5"/>
<path stroke="#ea7ccc" d="M1146.3 338.3Q1136.7 315.9 1152.0 296.9"/>
<path stroke="#ea7ccc" d="M1146.3 338.3Q1046.2 388.4 954.9 323.7"/>
<path stroke="#ea7ccc" d="M1075.4 274.6Q1029.9 335.3 954.9 323.7"/>
<path stroke="#ea7ccc" d="M1075.4 274.6Q1085.5 302.3 1065.9 324.2"/>
<path stroke="#ea7ccc" d="M1075.4 274.6Q1091.7 339.0 1042.6 383.6"/>
<path stroke="#ea7ccc" d="M1075.4 274.6Q1129.9 285.2 1146.3 338.3"/>
<path stroke="#ea7ccc" d="M1075.4 274.6Q1057.1 298.9 1027.1 294.2"/>
<path stroke="#ea7ccc" d="M1075.4 274.6Q1096.4 257.9 1121.0 268.5"/>
<path stroke="#ea7ccc" d="M1075.4 274.6Q1120.4 262.8 1152.0 296.9"/>
<path stroke="#ea7ccc" d="M1075.4 274.6Q1099.8 282.7 1104.1 308.1"/>
<path stroke="#ea7ccc" d="M1075.4 274.6Q1146.0 314.5 1143.9 395.6"/>
<path stroke="#ea7ccc" d="M1075.4 274.6Q959.7 379.7 812.6 327.1"/>
<path stroke="#ea7ccc" d="M1104.7 353.1Q1121.0 333.2 1146.3 338.3"/>
<path stroke="#ea7ccc" d="M1104.7 353.1Q1066.5 322.7 1075.4 274.6"/>
<path stroke="#ea7ccc" d="M1104.7 353.1Q1082.8 387.0 1042.6 383.6"/>
<path stroke="#ea7ccc" d="M1104.7 353.1Q1076.6 350.3 1065.9 324.2"/>
<path stroke="#ea7ccc" d="M1104.7 353.1Q1048.2 347.0 1027.1 294.2"/>
<path stroke="#ea7ccc" d="M1104.7 353.1Q1087.5 305.9 1121.0 268.5"/>
<path stroke="#ea7ccc" d="M1104.7 353.1Q1111.5 310.8 1152.0 296.9"/>
<path stroke="#ea7ccc" d="M1104.7 353.1Q1090.9 330.8 1104.1 308.1"/>
<path stroke="#ea7ccc" d="M1104.7 353.1Q1137.0 362.6 1143.9 395.6"/>
<path stroke="#ea7ccc" d="M1104.7 353.1Q1020.9 383.3 954.9 323.7"/>
<path stroke="#ea7ccc" d="M1167.5 257.5Q1126.6 293.7 1075.4 274.6"/>
<path stroke="#ea7ccc" d="M1167.5 257.5Q1108.3 318.0 1027.1 294.2"/>
<path stroke="#ea7ccc" d="M1167.5 257.5Q1151.0 301.8 1104.1 308.1"/>
<path stroke="#ea7ccc" d="M1167.5 257.5Q1136.7 321.3 1065.9 324.2"/>
<path stroke="#ea7ccc" d="M1167.5 257.5Q1164.8 324.1 1104.7 353.1"/>
<path stroke="#ea7ccc" d="M1167.5 257.5Q1142.9 358.0 1042.6 383.6"/>
<path stroke="#ea7ccc" d="M1167.5 257.5Q1181.2 304.2 1146.3 338.3"/>
<path stroke="#ea7ccc" d="M1167.5 257.5Q1147.6 276.9 1121.0 268.5"/>
<path stroke="#ea7ccc" d="M1167.5 257.5Q1171.6 281.8 1152.0 296.9"/>
<path stroke="#ea7ccc" d="M1178.4 429.1Q1151.1 422.7 1143.9 395.6"/>
<path stroke="#9a60b4" d="M893.0 162.8Q914.9 197.0 895.1 232.3"/>
<path stroke="#9a60b4" d="M893.0 162.8Q902.1 269.1 812.6 327.1"/>
<path stroke="#9a60b4" d="M893.0 162.8Q885.8 191.2 857.3 198.2"/>
<path stroke="#9a60b4" d="M893.0 162.8Q875.1 220.5 815.7 231.8"/>
<path stroke="#9a60b4" d="M893.0 162.8Q1034.0 228.4 1042.6 383.6"/>
<path stroke="#9a60b4" d="M893.0 162.8Q951.5 172.7 970.3 229.0"/>
<path stroke="#9a60b4" d="M927.8 186.3Q925.3 219.1 895.1 232.3"/>
<path stroke="#9a60b4" d="M927.8 186.3Q903.4 185.0 893.0 162.8"/>
<path stroke="#9a60b4" d="M927.8 186.3Q912.4 291.2 812.6 327.1"/>
<path stroke="#9a60b4" d="M927.8 186.3Q896.1 213.4 857.3 198.2"/>
<path stroke="#9a60b4" d="M927.8 186.3Q885.4 242.7 815.7 231.8"/>
<path stroke="#9a60b4" d="M927.8 186.3Q1044.4 250.5 1042.6 383.6"/>
<path stroke="#9a60b4" d="M927.8 186.3Q961.8 194.9 970.3 229.0"/>
<path stroke="#9a60b4" d="M921.5 132.4Q938.3 190.3 895.1 232.3"/>
<path stroke="#9a60b4" d="M921.5 132.4Q940.8 157.5 927.8 186.3"/>
<path stroke="#9a60b4" d="M921.5 132.4Q916.4 156.1 893.0 162.8"/>
<path stroke="#9a60b4" d="M921.5 132.4Q925.4 262.4 812.6 327.1"/>
<path stroke="#9a60b4" d="M921.5 132.4Q909.2 184.5 857.3 198.2"/>
<path stroke="#9a60b4" d="M921.5 132.4Q898.4 213.8 815.7 231.8"/>
<path stroke="#9a60b4" d="M921.5 132.4Q974.9 166.1 970.3 229.0"/>
<path stroke="#9a60b4" d="M921.5 132.4Q1022.8 181.6 1027.1 294.2"/>
<path stroke="#9a60b4" d="M968.6 136.9Q920.6 230.2 815.7 231.8"/>
<path stroke="#9a60b4" d="M968.6 136.9Q963.0 173.9 927.8 186.3"/>
<path stroke="#9a60b4" d="M968.6 136.9Q938.6 172.6 893.0 162.8"/>
<path stroke="#9a60b4" d="M968.6 136.9Q943.7 148.8 921.5 132.4"/>
<path stroke="#9a60b4" d="M968.6 136.9Q947.6 278.8 812.6 327.1"/>
<path stroke="#9a60b4" d="M968.6 136.9Q1079.6 238.1 1042.6 383.6"/>
<path stroke="#9a60b4" d="M968.6 136.9Q997.1 182.5 970.3 229.0"/>
<path stroke="#9a60b4" d="M968.6 136.9Q960.5 206.7 895.1 232.3"/>
<path stroke="#91cc75" d="M874.9 385.2Q863.0 344.7 893.1 315.1"/>
<path stroke="#91cc75" d="M874.9 385.2Q799.3 326.3 815.7 231.8"/>
<path stroke="#91cc75" d="M874.9 385.2Q826.3 374.8 812.6 327.1"/>
<path stroke="#ea7ccc" d="M1066.8 471.0Q1028.4 434.6 1042.6 383.6"/>
<path stroke="#ea7ccc" d="M1080.3 467.1Q1036.4 436.7 1042.6 383.6"/>
<path stroke="#ea7ccc" d="M1080.3 467.1Q1074.7 473.1 1066.8 471.0"/>
<path stroke="#9a60b4" d="M970.5 178.8Q951.4 195.4 927.8 186.3"/>
<path stroke="#9a60b4" d="M970.5 178.8Q927.0 194.1 893.0 162.8"/>
<path stroke="#9a60b4" d="M970.5 178.8Q948.9 228.2 895.1 232.3"/>
<path stroke="#9a60b4" d="M970.5 178.8Q1068.0 259.6 1042.6 383.6"/>
<path stroke="#9a60b4" d="M970.5 178.8Q985.5 204.0 970.3 229.0"/>
<path stroke="#9a60b4" d="M970.5 178.8Q932.1 170.3 921.5 132.4"/>
<path stroke="#9a60b4" d="M970.5 178.8Q957.0 158.4 968.6 136.9"/>
<path stroke="#ea7ccc" d="M1199.3 332.7Q1119.9 340.8 1075.4 274.6"/>
<path stroke="#ea7ccc" d="M1199.3 332.7Q1158.1 371.3 1104.7 353.1"/>
<path stroke="#ea7ccc" d="M1199.3 332.7Q1160.8 304.6 1167.5 257.5"/>
<path stroke="#ea7ccc" d="M1199.3 332.7Q1174.5 351.4 1146.3 338.3"/>
<path stroke="#ea7ccc" d="M1199.3 332.7Q1130.1 368.4 1065.9 324.2"/>
<path stroke="#ea7ccc" d="M1199.3 332.7Q1136.2 405.2 1042.6 383.6"/>
<path stroke="#ea7ccc" d="M1199.3 332.7Q1101.6 365.1 1027.1 294.2"/>
</g><g>
<circle cx="726.1" cy="474.9" r="5.16" fill="#5470c6"/>
<circle cx="653.0" cy="546.0" r="0.72" fill="#5470c6"/>
<circle cx="752.3" cy="448.7" r="1.71" fill="#91cc75"/>
<circle cx="737.7" cy="443.9" r="1.71" fill="#91cc75"/>
<circle cx="671.8" cy="537.4" r="0.72" fill="#5470c6"/>
<circle cx="653.4" cy="526.3" r="0.72" fill="#5470c6"/>
<circle cx="694.4" cy="564.4" r="0.72" fill="#5470c6"/>
<circle cx="670.1" cy="559.6" r="0.72" fill="#5470c6"/>
<circle cx="700.3" cy="517.2" r="0.72" fill="#5470c6"/>
<circle cx="659.9" cy="549.3" r="0.72" fill="#5470c6"/>
<circle cx="811.9" cy="443.6" r="0.72" fill="#91cc75"/>
<circle cx="812.6" cy="327.1" r="18.00" fill="#91cc75"/>
<circle cx="690.9" cy="241.2" r="1.21" fill="#91cc75"/>
<circle cx="761.2" cy="416.5" r="0.72" fill="#91cc75"/>
<circle cx="778.7" cy="427.8" r="0.72" fill="#91cc75"/>
<circle cx="793.4" cy="447.4" r="0.72" fill="#91cc75"/>
<circle cx="668.9" cy="140.4" r="4.67" fill="#fac858"/>
<circle cx="605.4" cy="140.2" r="3.68" fill="#fac858"/>
<circle cx="630.5" cy="92.2" r="3.68" fill="#fac858"/>
<circle cx="606.1" cy="109.8" r="3.68" fill="#fac858"/>
<circle cx="657.9" cy="106.2" r="3.68" fill="#fac858"/>
<circle cx="634.5" cy="125.2" r="3.68" fill="#fac858"/>
<circle cx="633.2" cy="155.4" r="3.68" fill="#fac858"/>
<circle cx="703.6" cy="190.7" r="7.63" fill="#fac858"/>
<circle cx="857.3" cy="198.2" r="5.66" fill="#9a60b4"/>
<circle cx="895.1" cy="232.3" r="8.13" fill="#9a60b4"/>
<circle cx="893.1" cy="315.1" r="5.66" fill="#fc8452"/>
<circle cx="815.7" cy="231.8" r="8.62" fill="#9a60b4"/>
<circle cx="746.0" cy="370.1" r="2.20" fill="#73c0de"/>
<circle cx="668.7" cy="320.6" r="4.18" fill="#ee6666"/>
<circle cx="659.9" cy="235.0" r="1.21" fill="#fac858"/>
<circle cx="719.1" cy="253.9" r="2.20" fill="#fac858"/>
<circle cx="795.9" cy="431.8" r="0.72" fill="#91cc75"/>
<circle cx="741.7" cy="275.7" r="1.21" fill="#91cc75"/>
<circle cx="667.7" cy="358.7" r="3.19" fill="#ee6666"/>
<circle cx="691.6" cy="372.6" r="3.19" fill="#ee6666"/>
<circle cx="636.0" cy="358.8" r="3.19" fill="#ee6666"/>
<circle cx="668.3" cy="397.9" r="3.19" fill="#ee6666"/>
<circle cx="639.2" cy="389.9" r="3.19" fill="#ee6666"/>
<circle cx="1017.7" cy="200.3" r="1.71" fill="#fc8452"/>
<circle cx="869.2" cy="108.3" r="0.72" fill="#9a60b4"/>
<circle cx="970.3" cy="229.0" r="5.66" fill="#9a60b4"/>
<circle cx="946.8" cy="163.2" r="1.71" fill="#9a60b4"/>
<circle cx="764.7" cy="260.4" r="1.71" fill="#fc8452"/>
<circle cx="732.8" cy="393.0" r="1.21" fill="#73c0de"/>
<circle cx="712.0" cy="409.0" r="0.72" fill="#73c0de"/>
<circle cx="1121.1" cy="582.4" r="0.72" fill="#3ba272"/>
<circle cx="1091.0" cy="502.5" r="1.21" fill="#3ba272"/>
<circle cx="1042.6" cy="383.6" r="11.09" fill="#ea7ccc"/>
<circle cx="916.2" cy="363.2" r="3.68" fill="#fc8452"/>
<circle cx="916.5" cy="275.8" r="1.21" fill="#fc8452"/>
<circle cx="933.7" cy="387.1" r="3.68" fill="#fc8452"/>
<circle cx="1026.0" cy="231.0" r="1.21" fill="#fc8452"/>
<circle cx="935.1" cy="494.3" r="0.72" fill="#fc8452"/>
<circle cx="921.6" cy="425.0" r="2.20" fill="#fc8452"/>
<circle cx="954.9" cy="323.7" r="9.61" fill="#fc8452"/>
<circle cx="949.3" cy="438.8" r="1.21" fill="#fc8452"/>
<circle cx="1143.9" cy="395.6" r="5.66" fill="#ea7ccc"/>
<circle cx="1027.1" cy="294.2" r="7.63" fill="#ea7ccc"/>
<circle cx="1104.1" cy="308.1" r="5.66" fill="#ea7ccc"/>
<circle cx="1152.0" cy="296.9" r="4.67" fill="#ea7ccc"/>
<circle cx="1121.0" cy="268.5" r="5.66" fill="#ea7ccc"/>
<circle cx="1065.9" cy="324.2" r="6.64" fill="#ea7ccc"/>
<circle cx="1146.3" cy="338.3" r="6.15" fill="#ea7ccc"/>
<circle cx="1075.4" cy="274.6" r="6.64" fill="#ea7ccc"/>
<circle cx="1104.7" cy="353.1" r="6.15" fill="#ea7ccc"/>
<circle cx="1167.5" cy="257.5" r="5.16" fill="#ea7ccc"/>
<circle cx="1178.4" cy="429.1" r="0.72" fill="#ea7ccc"/>
<circle cx="893.0" cy="162.8" r="5.16" fill="#9a60b4"/>
<circle cx="927.8" cy="186.3" r="5.16" fill="#9a60b4"/>
<circle cx="921.5" cy="132.4" r="5.16" fill="#9a60b4"/>
<circle cx="968.6" cy="136.9" r="4.67" fill="#9a60b4"/>
<circle cx="874.9" cy="385.2" r="1.71" fill="#91cc75"/>
<circle cx="1066.8" cy="471.0" r="1.21" fill="#ea7ccc"/>
<circle cx="1080.3" cy="467.1" r="1.21" fill="#ea7ccc"/>
<circle cx="970.5" cy="178.8" r="3.68" fill="#9a60b4"/>
<circle cx="1199.3" cy="332.7" r="3.68" fill="#ea7ccc"/>
</g></g>
</svg>
</body></html>
